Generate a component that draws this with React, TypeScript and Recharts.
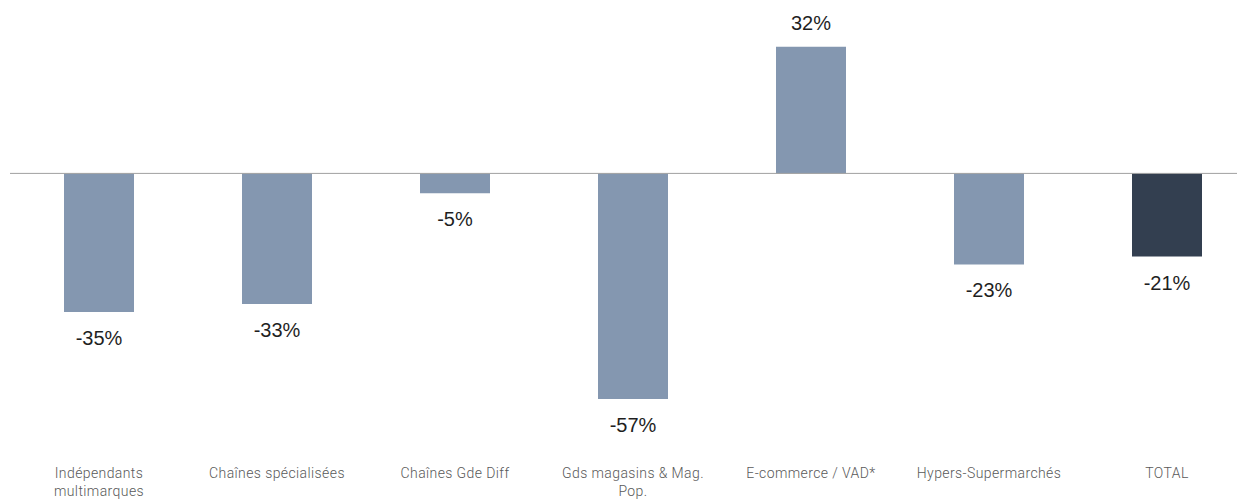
import { BarChart, Bar, Cell, XAxis, YAxis, ReferenceLine, LabelList, Text } from 'recharts';

const categories = [
  'Indépendants multimarques',
  'Chaînes spécialisées',
  'Chaînes Gde Diff',
  'Gds magasins & Mag. Pop.',
  'E-commerce / VAD*',
  'Hypers-Supermarchés',
  'TOTAL',
];
const evolution = [-35, -33, -5, -57, 32, -23, -21];
const barColors = ['#8497B0', '#8497B0', '#8497B0', '#8497B0', '#8497B0', '#8497B0', '#333F50'];

const data = categories.map((name, i) => ({ name, value: evolution[i] }));

const CategoryTick = (props: any) => {
  const { x, y, payload } = props;
  return (
    <Text
      x={x}
      y={y + 59}
      width={158}
      textAnchor="middle"
      verticalAnchor="middle"
      lineHeight={18}
      fill="#595959"
      style={{ fontFamily: 'Roboto, sans-serif', fontSize: 14, fontWeight: 300, letterSpacing: 0.4 }}
    >
      {payload.value}
    </Text>
  );
};

const ValueLabel = (props: any) => {
  const { x, y, width, height, value } = props;
  const top = Math.min(y, y + height);
  const bottom = Math.max(y, y + height);
  const ly = value >= 0 ? top - 24 : bottom + 26;
  return (
    <text
      x={x + width / 2}
      y={ly}
      textAnchor="middle"
      dominantBaseline="central"
      fill="#1f1f1f"
      style={{ fontFamily: '"Liberation Sans", Arial, sans-serif', fontSize: 20 }}
    >
      {`${value}%`}
    </text>
  );
};

export default function App() {
  return (
    <div style={{ width: 1237, height: 491, overflow: 'hidden' }}>
      <BarChart
        width={1250}
        height={491}
        data={data}
        margin={{ top: 7, right: 2, bottom: 0, left: 2 }}
      >
        <XAxis
          dataKey="name"
          axisLine={false}
          tickLine={false}
          height={88}
          interval={0}
          tick={<CategoryTick />}
        />
        <YAxis hide domain={[-60, 40]} />
        <ReferenceLine y={0} stroke="#a0a0a0" strokeWidth={1} />
        <Bar dataKey="value" barSize={70} isAnimationActive={false}>
          {data.map((entry, index) => (
            <Cell key={`cell-${index}`} fill={barColors[index]} />
          ))}
          <LabelList dataKey="value" content={<ValueLabel />} />
        </Bar>
      </BarChart>
    </div>
  );
}
